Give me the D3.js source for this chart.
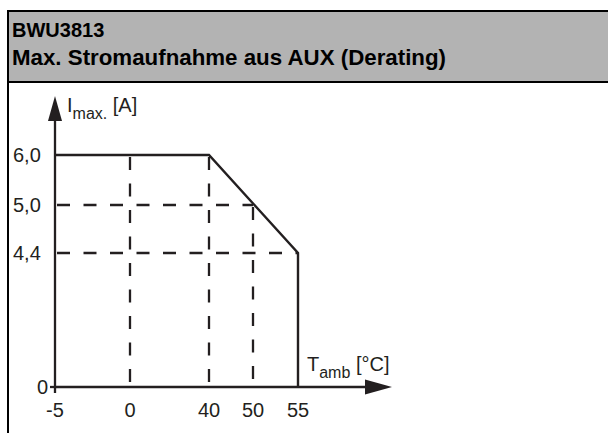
<!DOCTYPE html>
<html>
<head>
<meta charset="utf-8">
<script src="https://cdn.jsdelivr.net/npm/d3@7"></script>
<style>
  html, body { margin: 0; padding: 0; background: #fff; }
  svg { display: block; font-family: "Liberation Sans", Arial, sans-serif; }
</style>
</head>
<body>
<svg id="chart" width="608" height="433"></svg>
<script>
// ---- data ----
const titleLines = ["BWU3813", "Max. Stromaufnahme aus AUX (Derating)"];
const xTicks = [-5, 0, 40, 50, 55];
const xTickLabels = ["-5", "0", "40", "50", "55"];
const yTicks = [0, 4.4, 5.0, 6.0];
const yTickLabels = ["0", "4,4", "5,0", "6,0"];
const curveTemp = [-5, 40, 55, 55];
const curveCurrent = [6.0, 6.0, 4.4, 0];
const vGuideTemp = [0, 40, 50];
const vGuideCurrent = [6.0, 6.0, 5.0];
const hGuideCurrent = [5.0, 4.4];
const hGuideTemp = [50, 55];

// ---- layout ----
const svg = d3.select("#chart");
const ink = "#231f20";

// schematic (piecewise) scales, as in the original drawing
const x = d3.scaleLinear().domain(xTicks).range([55, 130, 209, 253, 298]);
const y = d3.scaleLinear().domain(yTicks).range([387, 253, 205, 155]);

// frame + header
svg.append("rect").attr("x", 8).attr("y", 11).attr("width", 640).attr("height", 71)
  .attr("fill", "#b3b3b3");
svg.append("rect").attr("x", 8).attr("y", 11).attr("width", 640).attr("height", 460)
  .attr("fill", "none").attr("stroke", "#000").attr("stroke-width", 2);
svg.append("line").attr("x1", 8).attr("x2", 608).attr("y1", 82).attr("y2", 82)
  .attr("stroke", "#000").attr("stroke-width", 2);

svg.selectAll("text.title").data(titleLines).join("text")
  .attr("class", "title")
  .attr("x", 12).attr("y", (d, i) => i === 0 ? 37 : 65)
  .attr("font-size", (d, i) => i === 0 ? 20 : 22.3)
  .attr("font-weight", "bold").attr("fill", "#000")
  .text(d => d);

// dashed guides
const dash = "13,13.5";
svg.selectAll("line.vg").data(vGuideTemp).join("line")
  .attr("class", "vg")
  .attr("x1", d => x(d)).attr("x2", d => x(d))
  .attr("y1", (d, i) => y(vGuideCurrent[i]) + 2).attr("y2", y(0))
  .attr("stroke", ink).attr("stroke-width", 2.3).attr("stroke-dasharray", dash);
svg.selectAll("line.hg").data(hGuideCurrent).join("line")
  .attr("class", "hg")
  .attr("x1", x(-5) + 2).attr("x2", (d, i) => x(hGuideTemp[i]))
  .attr("y1", d => y(d)).attr("y2", d => y(d))
  .attr("stroke", ink).attr("stroke-width", 2.3).attr("stroke-dasharray", dash);

// axes
const x0 = x(-5), y0 = y(0);
svg.append("line").attr("x1", x0).attr("x2", x0).attr("y1", 118).attr("y2", y0 + 6)
  .attr("stroke", ink).attr("stroke-width", 2.3);
svg.append("path").attr("d", `M${x0},96 L${x0 - 7},121 L${x0 + 7},121 Z`).attr("fill", ink);
svg.append("line").attr("x1", x0).attr("x2", 368).attr("y1", y0).attr("y2", y0)
  .attr("stroke", ink).attr("stroke-width", 2.3);
svg.append("path").attr("d", `M392,${y0} L365,${y0 - 7.5} L365,${y0 + 7.5} Z`).attr("fill", ink);
svg.append("line").attr("x1", x0 - 5).attr("x2", x0).attr("y1", y0).attr("y2", y0)
  .attr("stroke", ink).attr("stroke-width", 2.3);

// derating curve
const line = d3.line().x(d => x(d[0])).y(d => y(d[1]));
svg.append("path")
  .datum(curveTemp.map((t, i) => [t, curveCurrent[i]]))
  .attr("d", line).attr("fill", "none").attr("stroke", ink)
  .attr("stroke-width", 2.4).attr("stroke-linejoin", "miter");

// tick labels
svg.selectAll("text.xt").data(xTicks).join("text")
  .attr("class", "xt")
  .attr("x", d => x(d)).attr("y", 417)
  .attr("text-anchor", "middle").attr("font-size", 20).attr("fill", ink)
  .text((d, i) => xTickLabels[i]);
svg.selectAll("text.yt").data(yTicks).join("text")
  .attr("class", "yt")
  .attr("x", d => d === 0 ? x0 - 7 : 13)
  .attr("y", d => y(d) + 7)
  .attr("text-anchor", d => d === 0 ? "end" : "start")
  .attr("font-size", 20).attr("fill", ink)
  .text((d, i) => yTickLabels[i]);

// axis titles
const yt = svg.append("text").attr("x", 67).attr("y", 112).attr("font-size", 20).attr("fill", ink);
yt.append("tspan").text("I");
yt.append("tspan").attr("dy", 7).attr("font-size", 16).text("max.");
yt.append("tspan").attr("dy", -7).text(" [A]");

const xt = svg.append("text").attr("x", 307).attr("y", 371).attr("font-size", 20).attr("fill", ink);
xt.append("tspan").text("T");
xt.append("tspan").attr("dy", 7).attr("font-size", 16).text("amb");
xt.append("tspan").attr("dy", -7).text(" [°C]");
</script>
</body>
</html>
